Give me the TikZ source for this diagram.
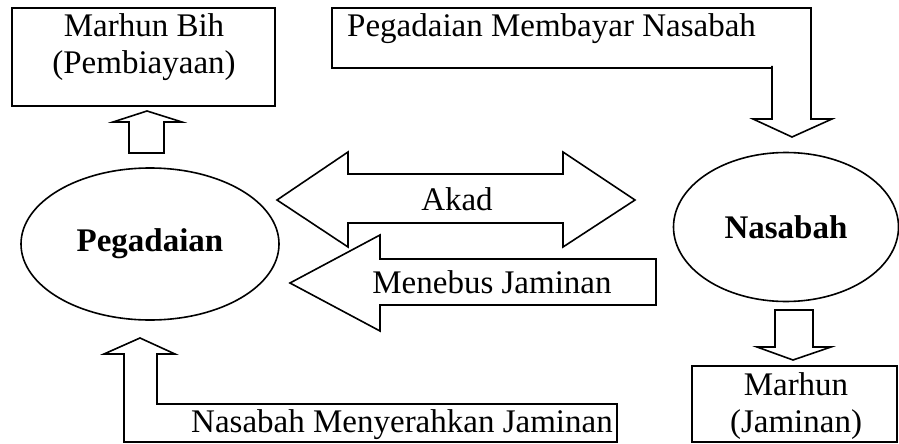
\documentclass[tikz,border=0pt]{standalone}
\usepackage{fontspec}
\setmainfont{Liberation Serif}
\usetikzlibrary{shapes.geometric}
\newcommand\bigtxt{\fontsize{33}{37}\selectfont}
\tikzset{
  outl/.style={draw=black, line width=1.6pt, line join=miter},
  lbl/.style={font=\bigtxt, inner sep=0pt, anchor=base},
  oval/.style={ellipse, draw=black, line width=1.6pt, inner sep=0pt, font=\bigtxt\bfseries}
}
\begin{document}
\begin{tikzpicture}[x=1pt,y=-1pt]
\useasboundingbox (0,0) rectangle (899,444);
% boxes
\draw[outl] (12,8) rectangle (275,106);
\node[lbl] (bih1) at (144,37) {Marhun Bih};
\node[lbl] (bih2) at (144,74) {(Pembiayaan)};
\draw[outl] (772,68) -- (332,68) -- (332,8) -- (811,8) -- (811,68);
\node[lbl, anchor=base west] (bayar) at (347,37) {Pegadaian Membayar Nasabah};
\draw[outl] (692,366) rectangle (897,442);
\node[lbl] (mar1) at (796,395) {Marhun};
\node[lbl] (mar2) at (796,432) {(Jaminan)};
% ellipses
\node[oval, minimum width=258pt, minimum height=152pt] (peg) at (150,244) {Pegadaian};
\node[oval, minimum width=225pt, minimum height=149pt] (nas) at (786,227) {Nasabah};
% block arrows
\draw[outl] (147,111) -- (182,122) -- (164,122) -- (164,153) -- (129,153) -- (129,122) -- (113,122) -- cycle;
\draw[outl] (772,66) -- (772,119) -- (753,119) -- (792,137) -- (832,119) -- (811,119) -- (811,66);
\draw[outl] (277,200) -- (348,152) -- (348,174) -- (563,174) -- (563,152) -- (635,200) -- (563,247) -- (563,223) -- (348,223) -- (348,247) -- cycle;
\node[lbl] (akad) at (457,210) {Akad};
\draw[outl] (290,283) -- (380,235) -- (380,259) -- (656,259) -- (656,305) -- (380,305) -- (380,331) -- cycle;
\node[lbl] (tebus) at (492,293) {Menebus Jaminan};
\draw[outl] (775,310) -- (813,310) -- (813,347) -- (831,347) -- (793,360) -- (757,347) -- (775,347) -- cycle;
\draw[outl] (124,442) -- (124,354) -- (104,354) -- (140,338) -- (175,354) -- (157,354) -- (157,404) -- (617,404) -- (617,442) -- cycle;
\node[lbl] (serah) at (402,432) {Nasabah Menyerahkan Jaminan};
\end{tikzpicture}
\end{document}
